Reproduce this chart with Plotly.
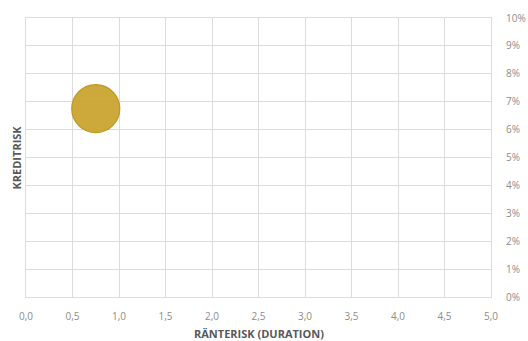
import plotly.graph_objects as go

# Risk position: duration (x) vs credit risk in percent (y)
duration = [0.75]
credit_risk = [6.75]
bubble_size = [48]

x_ticks = [0.0, 0.5, 1.0, 1.5, 2.0, 2.5, 3.0, 3.5, 4.0, 4.5, 5.0]
x_tick_labels = ["0,0", "0,5", "1,0", "1,5", "2,0", "2,5", "3,0", "3,5", "4,0", "4,5", "5,0"]
y_ticks = list(range(0, 11))
y_tick_labels = [f"{v}%" for v in y_ticks]

grid = "#dcdcdc"
tick_col = "#8c8c8c"
title_col = "#595959"
font_family = "Open Sans, Liberation Sans, sans-serif"

fig = go.Figure(
    go.Scatter(
        x=duration,
        y=credit_risk,
        mode="markers",
        marker=dict(
            size=bubble_size,
            opacity=1,
            color="rgba(202,164,48,0.94)",
            line=dict(color="#bf9820", width=1.2),
        ),
        hoverinfo="skip",
    )
)

fig.update_layout(
    width=528,
    height=341,
    margin=dict(l=26, r=37, t=18, b=44, autoexpand=False),
    paper_bgcolor="white",
    plot_bgcolor="white",
    showlegend=False,
    font=dict(family=font_family, color=tick_col, size=10),
    xaxis=dict(
        range=[0, 5],
        tickvals=x_ticks,
        ticktext=x_tick_labels,
        showgrid=True,
        gridcolor=grid,
        gridwidth=1,
        zeroline=False,
        showline=True,
        linecolor=grid,
        mirror=True,
        ticks="",
        automargin=False,
        ticklabelstandoff=10,
        tickfont=dict(size=10, color=tick_col),
    ),
    yaxis=dict(
        range=[0, 10],
        tickvals=y_ticks,
        ticktext=y_tick_labels,
        side="right",
        showgrid=True,
        gridcolor=grid,
        gridwidth=1,
        zeroline=False,
        showline=True,
        linecolor=grid,
        mirror=True,
        ticks="",
        automargin=False,
        ticklabelstandoff=12,
        tickfont=dict(size=10, color=tick_col),
    ),
    annotations=[
        dict(
            text="<b>RÄNTERISK (DURATION)</b>",
            xref="paper", yref="paper",
            x=0.5, y=0, yshift=-36,
            showarrow=False,
            yanchor="middle",
            font=dict(size=11, color=title_col, family=font_family),
        ),
        dict(
            text="<b>KREDITRISK</b>",
            xref="paper", yref="paper",
            x=0, xshift=-10, y=0.5,
            textangle=-90,
            showarrow=False,
            xanchor="center",
            font=dict(size=11, color=title_col, family=font_family),
        ),
    ],
)

fig.write_html("out.html")
